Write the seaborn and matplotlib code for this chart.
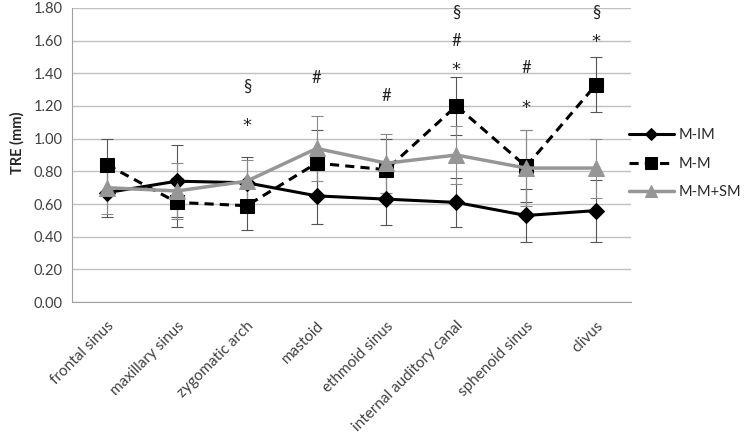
import matplotlib
matplotlib.use("Agg")
import matplotlib.pyplot as plt
import seaborn as sns
import numpy as np

# 데이터
regions = ["frontal sinus", "maxillary sinus", "zygomatic arch", "mastoid",
           "ethmoid sinus", "internal auditory canal", "sphenoid sinus", "clivus"]
m_im = [0.67, 0.74, 0.73, 0.65, 0.63, 0.61, 0.53, 0.56]
m_im_sd = [0.15, 0.22, 0.16, 0.17, 0.16, 0.15, 0.16, 0.19]
m_m = [0.84, 0.61, 0.59, 0.85, 0.81, 1.20, 0.83, 1.33]
m_m_sd = [0.16, 0.15, 0.15, 0.20, 0.19, 0.18, 0.22, 0.17]
m_m_sm = [0.70, 0.68, 0.74, 0.94, 0.85, 0.90, 0.82, 0.82]
m_m_sm_sd = [0.16, 0.17, 0.13, 0.20, 0.18, 0.18, 0.23, 0.18]

# 유의성 표시
sig_region = ["zygomatic arch", "zygomatic arch", "mastoid", "ethmoid sinus",
              "internal auditory canal", "internal auditory canal", "internal auditory canal",
              "sphenoid sinus", "sphenoid sinus", "clivus", "clivus"]
sig_y = [1.32, 1.08, 1.37, 1.26, 1.77, 1.60, 1.42, 1.43, 1.19, 1.77, 1.59]
sig_text = ["§", "*", "#", "#", "§", "#", "*", "#", "*", "§", "*"]

sns.set_style("white")
plt.rcParams["font.family"] = ["Lato", "DejaVu Sans"]

fig = plt.figure(figsize=(7.44, 4.36), dpi=100)
ax = fig.add_axes([0.097, 0.307, 0.751, 0.675])

gray = "#969696"
# 오차막대
ax.errorbar(regions, m_im, yerr=m_im_sd, fmt="none", ecolor="#555555",
            elinewidth=0.8, capsize=4, capthick=0.8, zorder=2)
ax.errorbar(regions, m_m, yerr=m_m_sd, fmt="none", ecolor="#555555",
            elinewidth=0.8, capsize=4, capthick=0.8, zorder=2)
ax.errorbar(regions, m_m_sm, yerr=m_m_sm_sd, fmt="none", ecolor="#8a8a8a",
            elinewidth=0.8, capsize=4, capthick=0.8, zorder=2)

sns.lineplot(x=regions, y=m_im, sort=False, ax=ax, color="black", lw=2.2,
             marker="D", markersize=8, markeredgecolor="black", label="M-IM", zorder=3)
sns.lineplot(x=regions, y=m_m, sort=False, ax=ax, color="black", lw=2.2,
             linestyle=(0, (3, 2)), marker="s", markersize=10, markeredgecolor="black",
             label="M-M", zorder=4)
sns.lineplot(x=regions, y=m_m_sm, sort=False, ax=ax, color=gray, lw=2.5,
             marker="^", markersize=11, markeredgecolor=gray, label="M-M+SM", zorder=5)

for r, y, t in zip(sig_region, sig_y, sig_text):
    if t == "*":
        ax.text(regions.index(r), y, t, ha="center", va="center", fontsize=13,
                family="DejaVu Sans", color="#222222")
    else:
        ax.text(regions.index(r), y, t, ha="center", va="center", fontsize=12,
                color="#222222")

ax.set_xlim(-0.5, 7.5)
ax.set_ylim(0, 1.8)
ax.set_yticks(np.arange(0, 1.81, 0.2))
ax.set_yticklabels([f"{v:.2f}" for v in np.arange(0, 1.81, 0.2)], fontsize=10.5, color="#404040")
ax.set_xticks(range(len(regions)))
ax.set_xticklabels(regions, rotation=45, ha="right", rotation_mode="anchor",
                   fontsize=11, color="#404040")
ax.set_xticks(np.arange(-0.5, 8, 1), minor=True)
ax.tick_params(axis="x", which="major", length=0, pad=12)
ax.tick_params(axis="x", which="minor", length=5, color="#a0a0a0", width=0.8)
ax.tick_params(axis="y", length=5, color="#a0a0a0", width=0.8, pad=2)
ax.yaxis.grid(True, color="#c0c0c0", lw=1)
ax.set_axisbelow(True)
for s in ["top", "right"]:
    ax.spines[s].set_visible(False)
for s in ["left", "bottom"]:
    ax.spines[s].set_color("#a0a0a0")
    ax.spines[s].set_linewidth(0.8)

ax.set_xlabel("")
ax.set_ylabel("TRE (mm)", fontsize=10.5, fontweight="bold")
ax.yaxis.set_label_coords(-0.085, 0.54)

ax.legend(loc="center left", bbox_to_anchor=(0.996, 0.47), frameon=False,
          fontsize=10.5, handlelength=3.1, labelspacing=1.0, handletextpad=0.35,
          borderaxespad=0, borderpad=0, markerscale=0.8)

fig.savefig("out.png", dpi=100)
